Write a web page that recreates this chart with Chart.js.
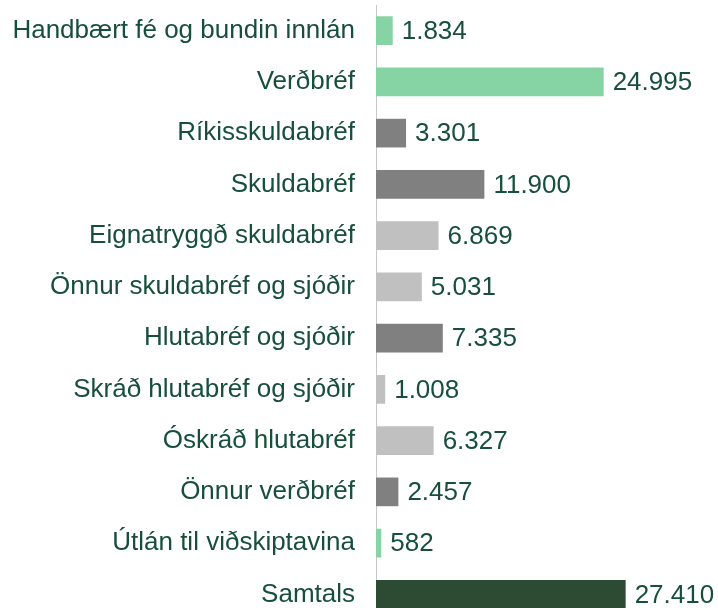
<!DOCTYPE html>
<html>
<head>
<meta charset="utf-8">
<script src="https://cdn.jsdelivr.net/npm/chart.js@4.4.0/dist/chart.umd.min.js"></script>
<style>
  html, body { margin: 0; padding: 0; background: #fff; overflow: hidden; }
  #wrap { position: absolute; left: 0; top: 0; width: 718px; height: 620px; }
</style>
</head>
<body>
<div id="wrap"><canvas id="chart"></canvas></div>
<script>
const categories = [
  "Handbært fé og bundin innlán",
  "Verðbréf",
  "Ríkisskuldabréf",
  "Skuldabréf",
  "Eignatryggð skuldabréf",
  "Önnur skuldabréf og sjóðir",
  "Hlutabréf og sjóðir",
  "Skráð hlutabréf og sjóðir",
  "Óskráð hlutabréf",
  "Önnur verðbréf",
  "Útlán til viðskiptavina",
  "Samtals"
];
const values = [1834, 24995, 3301, 11900, 6869, 5031, 7335, 1008, 6327, 2457, 582, 27410];
const barColors = [
  "#86d3a4", "#86d3a4", "#808080", "#808080", "#c0c0c0", "#c0c0c0",
  "#808080", "#c0c0c0", "#c0c0c0", "#808080", "#86d3a4", "#2d4a33"
];

const textColor = "#174f3b";
const font = { family: "'Liberation Sans', Arial, sans-serif", size: 26 };

function fmt(v) {
  return String(v).replace(/\B(?=(\d{3})+(?!\d))/g, ".");
}

// value labels at the end of each bar
const valueLabels = {
  id: "valueLabels",
  afterDatasetsDraw(chart) {
    const ctx = chart.ctx;
    const meta = chart.getDatasetMeta(0);
    ctx.save();
    ctx.font = font.size + "px " + font.family;
    ctx.fillStyle = textColor;
    ctx.textAlign = "left";
    ctx.textBaseline = "middle";
    meta.data.forEach((bar, i) => {
      ctx.fillText(fmt(values[i]), bar.x + 9, bar.y + 1);
    });
    ctx.restore();
  }
};

new Chart(document.getElementById("chart"), {
  type: "bar",
  data: {
    labels: categories,
    datasets: [{
      data: values,
      backgroundColor: barColors,
      barPercentage: 0.56,
      categoryPercentage: 1
    }]
  },
  options: {
    indexAxis: "y",
    responsive: true,
    maintainAspectRatio: false,
    animation: false,
    layout: { padding: { top: 5, bottom: 0, right: 5, left: 0 } },
    plugins: { legend: { display: false }, tooltip: { enabled: false } },
    scales: {
      x: { display: false, min: 0, max: 37000 },
      y: {
        grid: { display: false },
        border: { display: true, color: "#c8c8c8", width: 1 },
        ticks: { color: textColor, font: font, padding: 13 },
        afterFit(scale) {
          scale.width = 376;
          scale.paddingTop = 0;
          scale.paddingBottom = 0;
        }
      }
    }
  },
  plugins: [valueLabels]
});
</script>
</body>
</html>
